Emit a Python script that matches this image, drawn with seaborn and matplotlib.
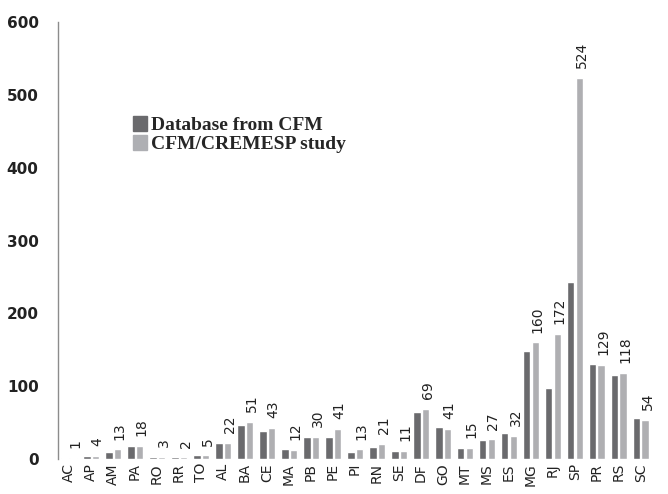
import pandas as pd
import matplotlib.pyplot as plt
import seaborn as sns
from matplotlib.patches import Patch

# ======= data =======
states = ['AC', 'AP', 'AM', 'PA', 'RO', 'RR', 'TO', 'AL', 'BA', 'CE', 'MA', 'PB', 'PE', 'PI',
          'RN', 'SE', 'DF', 'GO', 'MT', 'MS', 'ES', 'MG', 'RJ', 'SP', 'PR', 'RS', 'SC']
cfm_db = [1, 4, 9, 18, 3, 2, 5, 22, 47, 39, 13, 30, 30, 9,
          17, 11, 64, 44, 15, 26, 35, 148, 97, 243, 131, 115, 56]
cremesp = [1, 4, 13, 18, 3, 2, 5, 22, 51, 43, 12, 30, 41, 13,
           21, 11, 69, 41, 15, 27, 32, 160, 172, 524, 129, 118, 54]
series_names = ['Database from CFM', 'CFM/CREMESP study']
colors = ['#6a6a6d', '#aeafb3']

df = pd.DataFrame({
    'state': states * 2,
    'value': cfm_db + cremesp,
    'source': [series_names[0]] * len(states) + [series_names[1]] * len(states),
})

# ======= style =======
sns.set_theme(style='white')
plt.rcParams['font.family'] = ['DejaVu Sans']

fig = plt.figure(figsize=(6.68, 4.94), dpi=100)
ax = fig.add_axes([0.087, 0.071, 0.889, 0.884])

sns.barplot(data=df, x='state', y='value', hue='source', palette=colors,
            width=0.78, gap=0.12, order=states, hue_order=series_names,
            legend=False, ax=ax)

# value labels above the study bars
for i, v in enumerate(cremesp):
    ax.annotate(str(v), (i + 0.2, v), xytext=(1.5, 7), textcoords='offset points',
                rotation=90, ha='center', va='bottom', fontsize=10, color='#222222')

ax.set_ylim(0, 600)
ax.set_xlim(-0.5, len(states) - 0.5)
ax.set_yticks(range(0, 601, 100))
ax.set_xlabel('')
ax.set_ylabel('')
ax.tick_params(axis='x', rotation=90, labelsize=10, length=0, pad=3, colors='#222222')
ax.tick_params(axis='y', labelsize=11, length=0, pad=14, colors='#222222')
for lab in ax.get_yticklabels():
    lab.set_fontweight('bold')

for s in ['top', 'right', 'bottom']:
    ax.spines[s].set_visible(False)
ax.spines['left'].set_color('#8c8c8c')
ax.spines['left'].set_linewidth(1.0)

handles = [Patch(color=c) for c in colors]
leg = fig.legend(handles, series_names, loc='upper left', bbox_to_anchor=(0.187, 0.78),
                 frameon=False, handlelength=0.75, handleheight=0.75, handletextpad=0.2,
                 labelspacing=0.05, borderaxespad=0,
                 prop={'family': 'Liberation Serif', 'weight': 'bold', 'size': 14})

plt.savefig('out.png', dpi=100)
